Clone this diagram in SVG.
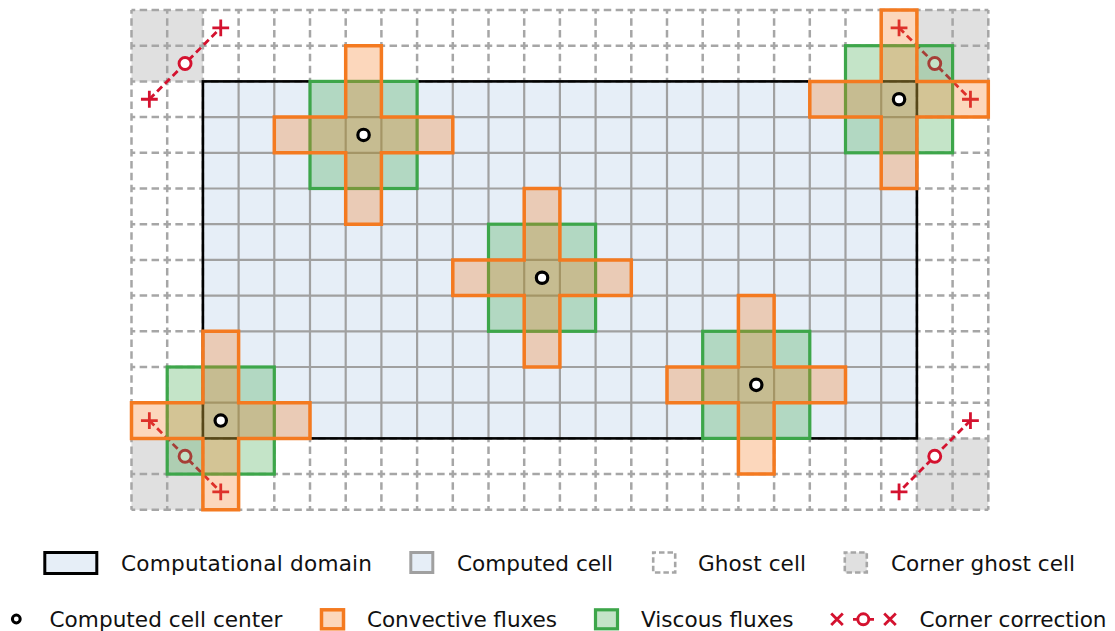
<svg xmlns="http://www.w3.org/2000/svg" xmlns:xlink="http://www.w3.org/1999/xlink" width="1115" height="631" viewBox="0 0 1115 631">
<style>
.bg{fill:#ffffff}
.dom{fill:#e6eef7}
.cg{fill:#e0e0e0}
.grid{fill:none;stroke:#a0a0a0;stroke-width:2.2}
.ghost{fill:none;stroke:#a6a6a6;stroke-width:2.5;stroke-dasharray:7.5 4.4;stroke-dashoffset:3.75}
.border{fill:none;stroke:#000000;stroke-width:2.6}
.red{fill:none;stroke:#d4122f;stroke-width:2.8}
.reddash{fill:none;stroke:#d4122f;stroke-width:2.8;stroke-dasharray:7 4}
.redc{fill:#ffffff;stroke:#d4122f;stroke-width:2.9}
.visc{fill:#3da64a;fill-opacity:0.3;stroke:#3da64a;stroke-width:3.2}
.conv{fill:#f47a20;fill-opacity:0.3;stroke:#f47a20;stroke-width:3.5}
.ctr{fill:#ffffff;stroke:#000000;stroke-width:3.2}
.lbl{font-family:"DejaVu Sans","Liberation Sans",sans-serif;font-size:21.6px;fill:#111111}
</style>
<defs>
<path id="cross" d="M0 -71.4H35.7V0H107.1V35.7H35.7V107.1H0V35.7H-71.4V0H0Z"/>
<rect id="sq" x="-35.7" y="-35.7" width="107.1" height="107.1"/>
</defs>
<rect class="bg" x="0" y="0" width="1115" height="631"/>

<g id="grid">
<rect class="cg" x="131.5" y="10" width="71.4" height="71.4"/>
<rect class="cg" x="916.9" y="10" width="71.4" height="71.4"/>
<rect class="cg" x="131.5" y="438.4" width="71.4" height="71.4"/>
<rect class="cg" x="916.9" y="438.4" width="71.4" height="71.4"/>
<rect class="dom" x="202.9" y="81.4" width="714" height="357"/>
<path class="grid" d="M238.6 81.4V438.4M274.3 81.4V438.4M310 81.4V438.4M345.7 81.4V438.4M381.4 81.4V438.4M417.1 81.4V438.4M452.8 81.4V438.4M488.5 81.4V438.4M524.2 81.4V438.4M559.9 81.4V438.4M595.6 81.4V438.4M631.3 81.4V438.4M667 81.4V438.4M702.7 81.4V438.4M738.4 81.4V438.4M774.1 81.4V438.4M809.8 81.4V438.4M845.5 81.4V438.4M881.2 81.4V438.4M202.9 117.1H916.9M202.9 152.8H916.9M202.9 188.5H916.9M202.9 224.2H916.9M202.9 259.9H916.9M202.9 295.6H916.9M202.9 331.3H916.9M202.9 367H916.9M202.9 402.7H916.9"/>
<path class="ghost" d="M131.5 10H988.3M131.5 45.7H988.3M131.5 81.4H988.3M131.5 438.4H988.3M131.5 474.1H988.3M131.5 509.8H988.3M131.5 117.1H202.9M916.9 117.1H988.3M131.5 152.8H202.9M916.9 152.8H988.3M131.5 188.5H202.9M916.9 188.5H988.3M131.5 224.2H202.9M916.9 224.2H988.3M131.5 259.9H202.9M916.9 259.9H988.3M131.5 295.6H202.9M916.9 295.6H988.3M131.5 331.3H202.9M916.9 331.3H988.3M131.5 367H202.9M916.9 367H988.3M131.5 402.7H202.9M916.9 402.7H988.3M131.5 10V509.8M167.2 10V509.8M202.9 10V509.8M916.9 10V509.8M952.6 10V509.8M988.3 10V509.8M238.6 10V81.4M238.6 438.4V509.8M274.3 10V81.4M274.3 438.4V509.8M310 10V81.4M310 438.4V509.8M345.7 10V81.4M345.7 438.4V509.8M381.4 10V81.4M381.4 438.4V509.8M417.1 10V81.4M417.1 438.4V509.8M452.8 10V81.4M452.8 438.4V509.8M488.5 10V81.4M488.5 438.4V509.8M524.2 10V81.4M524.2 438.4V509.8M559.9 10V81.4M559.9 438.4V509.8M595.6 10V81.4M595.6 438.4V509.8M631.3 10V81.4M631.3 438.4V509.8M667 10V81.4M667 438.4V509.8M702.7 10V81.4M702.7 438.4V509.8M738.4 10V81.4M738.4 438.4V509.8M774.1 10V81.4M774.1 438.4V509.8M809.8 10V81.4M809.8 438.4V509.8M845.5 10V81.4M845.5 438.4V509.8M881.2 10V81.4M881.2 438.4V509.8"/>
<rect id="domain" class="border" x="202.9" y="81.4" width="714" height="357"/>
</g>

<g id="connectors">
<g id="corner-tl">
<path class="reddash" d="M149.35 99.25L220.75 27.85"/>
<path class="red" d="M212.35 27.85h16.8M220.75 19.45v16.8M140.95 99.25h16.8M149.35 90.85v16.8"/>
<circle class="redc" cx="185.05" cy="63.55" r="6"/>
</g>
<g id="corner-tr">
<path class="reddash" d="M899.05 27.85L970.45 99.25"/>
<path class="red" d="M890.65 27.85h16.8M899.05 19.45v16.8M962.05 99.25h16.8M970.45 90.85v16.8"/>
<circle class="redc" cx="934.75" cy="63.55" r="6"/>
</g>
<g id="corner-bl">
<path class="reddash" d="M149.35 420.55L220.75 491.95"/>
<path class="red" d="M140.95 420.55h16.8M149.35 412.15v16.8M212.35 491.95h16.8M220.75 483.55v16.8"/>
<circle class="redc" cx="185.05" cy="456.25" r="6"/>
</g>
<g id="corner-br">
<path class="reddash" d="M970.45 420.55L899.05 491.95"/>
<path class="red" d="M962.05 420.55h16.8M970.45 412.15v16.8M890.65 491.95h16.8M899.05 483.55v16.8"/>
<circle class="redc" cx="934.75" cy="456.25" r="6"/>
</g>
</g>

<g id="stencil-1" transform="translate(345.7 117.1)">
<use xlink:href="#sq" href="#sq" class="visc"/>
<use xlink:href="#cross" href="#cross" class="conv"/>
<circle class="ctr" cx="17.85" cy="17.85" r="5.7"/>
</g>
<g id="stencil-2" transform="translate(881.2 81.4)">
<use xlink:href="#sq" href="#sq" class="visc"/>
<use xlink:href="#cross" href="#cross" class="conv"/>
<circle class="ctr" cx="17.85" cy="17.85" r="5.7"/>
</g>
<g id="stencil-3" transform="translate(524.2 259.9)">
<use xlink:href="#sq" href="#sq" class="visc"/>
<use xlink:href="#cross" href="#cross" class="conv"/>
<circle class="ctr" cx="17.85" cy="17.85" r="5.7"/>
</g>
<g id="stencil-4" transform="translate(738.4 367)">
<use xlink:href="#sq" href="#sq" class="visc"/>
<use xlink:href="#cross" href="#cross" class="conv"/>
<circle class="ctr" cx="17.85" cy="17.85" r="5.7"/>
</g>
<g id="stencil-5" transform="translate(202.9 402.7)">
<use xlink:href="#sq" href="#sq" class="visc"/>
<use xlink:href="#cross" href="#cross" class="conv"/>
<circle class="ctr" cx="17.85" cy="17.85" r="5.7"/>
</g>

<g id="legend">
<g id="leg-domain">
<rect x="44.8" y="552.5" width="52" height="21" fill="#e6eef7" stroke="#000000" stroke-width="3"/>
<text class="lbl" x="121" y="570.5" textLength="251">Computational domain</text>
</g>
<g id="leg-computed">
<rect x="410.8" y="552.5" width="22" height="20" fill="#e6eef7" stroke="#a0a0a0" stroke-width="3"/>
<text class="lbl" x="457" y="570.5" textLength="156">Computed cell</text>
</g>
<g id="leg-ghost">
<rect x="653.2" y="552.5" width="22" height="20" fill="none" stroke="#a6a6a6" stroke-width="2.6" stroke-dasharray="5.5 3" stroke-dashoffset="2.7"/>
<text class="lbl" x="698" y="570.5" textLength="108">Ghost cell</text>
</g>
<g id="leg-corner-ghost">
<rect x="844.8" y="552.5" width="22" height="20" fill="#e0e0e0" stroke="#a6a6a6" stroke-width="2.6" stroke-dasharray="5.5 3" stroke-dashoffset="2.7"/>
<text class="lbl" x="891" y="570.5" textLength="184">Corner ghost cell</text>
</g>
<g id="leg-center">
<circle cx="16.3" cy="619" r="3.9" fill="#ffffff" stroke="#000000" stroke-width="3"/>
<text class="lbl" x="49.5" y="627.3" textLength="233">Computed cell center</text>
</g>
<g id="leg-conv">
<rect x="321.5" y="609.8" width="22" height="19" class="conv"/>
<text class="lbl" x="367" y="627.3" textLength="190">Convective fluxes</text>
</g>
<g id="leg-visc">
<rect x="595.5" y="609.8" width="22" height="19" class="visc"/>
<text class="lbl" x="641" y="627.3" textLength="152.5">Viscous fluxes</text>
</g>
<g id="leg-corner">
<path class="red" d="M853 619.3H874M831.2 613.5l11.6 11.6M842.8 613.5l-11.6 11.6M884.2 613.5l11.6 11.6M895.8 613.5l-11.6 11.6"/>
<circle class="redc" cx="863.3" cy="619.3" r="5.5"/>
<text class="lbl" x="919.5" y="627.3" textLength="187">Corner correction</text>
</g>
</g>
</svg>
